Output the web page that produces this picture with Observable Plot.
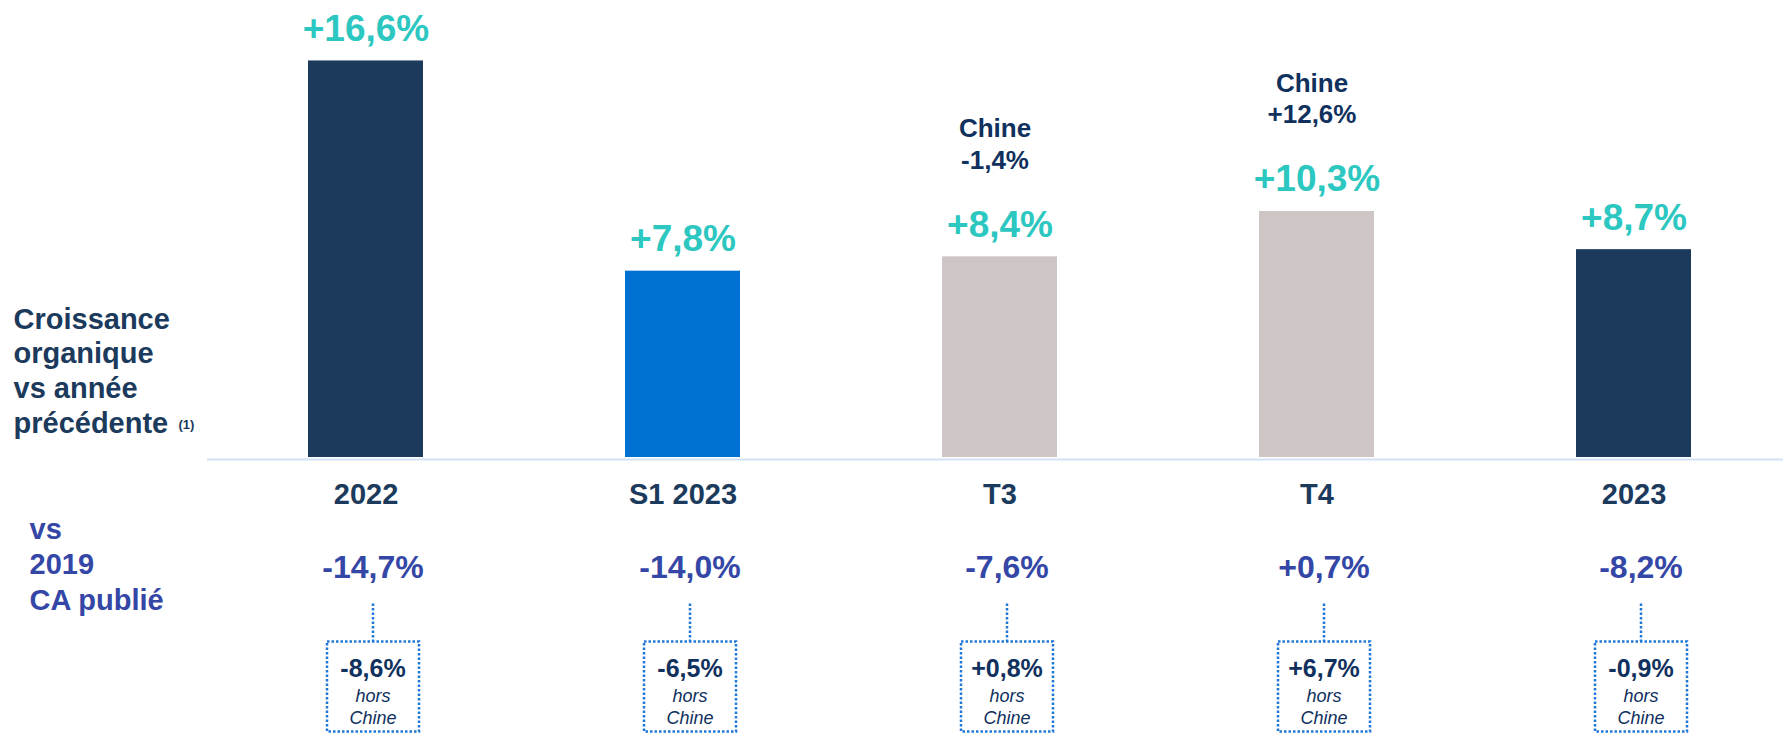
<!DOCTYPE html>
<html>
<head>
<meta charset="utf-8">
<script src="https://cdn.jsdelivr.net/npm/d3@7"></script>
<script src="https://cdn.jsdelivr.net/npm/@observablehq/plot@0.6"></script>
<style>
  html, body { margin: 0; padding: 0; background: #ffffff; }
  #chart svg { display: block; }
</style>
</head>
<body>
<div id="chart"></div>
<script>
// ---- data ----
const categories = ["2022", "S1 2023", "T3", "T4", "2023"];
const growth = [16.6, 7.8, 8.4, 10.3, 8.7];            // organic growth vs previous year (%)
const vs2019 = [-14.7, -14.0, -7.6, 0.7, -8.2];        // vs 2019 reported sales (%)
const exChina = [-8.6, -6.5, 0.8, 6.7, -0.9];          // vs 2019 excluding China (%)
const chinaCategories = ["T3", "T4"];
const chinaGrowth = [-1.4, 12.6];                      // China growth (%)
const leftLabelTop = "Croissance\norganique\nvs année\nprécédente";
const leftLabelNote = "(1)";
const leftLabelBottom = "vs\n2019\nCA publié";
const exChinaText = "hors\nChine";

// ---- styles ----
const barColors = ["#1b3a5c", "#0070d2", "#cec6c4", "#cec6c4", "#1b3a5c"];
const navy = "#1b3a5c";
const darkNavy = "#10305d";
const teal = "#2cc7c0";
const indigo = "#3447a6";
const boxBlue = "#1f78d8";

const fmt = v => (v >= 0 ? "+" : "-") + Math.abs(v).toFixed(1).replace(".", ",") + "%";

const rows = categories.map((cat, i) => ({
  cat, growth: growth[i], vs2019: vs2019[i], exChina: exChina[i]
}));
const chinaRows = chinaCategories.map((cat, i) => ({
  cat, china: chinaGrowth[i], growth: growth[categories.indexOf(cat)]
}));

const W = 1783, H = 735;
const mL = 275, mR = 58, mT = 27, mB = 278;

// dotted callout: connector + box (drawn relative to the box centre)
const boxSymbol = {
  draw(ctx) {
    const w = 46, h = 45, top = -83;
    ctx.moveTo(0, top); ctx.lineTo(0, -h);
    ctx.moveTo(-w, -h); ctx.lineTo(w, -h); ctx.lineTo(w, h); ctx.lineTo(-w, h); ctx.closePath();
  }
};

const chart = Plot.plot({
  width: W,
  height: H,
  marginLeft: mL,
  marginRight: mR,
  marginTop: mT,
  marginBottom: mB,
  style: { fontFamily: "'Liberation Sans', Arial, Helvetica, sans-serif", background: "#ffffff", overflow: "visible" },
  x: { type: "band", domain: categories, paddingInner: 0.6364, paddingOuter: 0.1, axis: null },
  y: { domain: [0, 18], axis: null },
  color: { domain: categories, range: barColors },
  marks: [
    Plot.ruleY([0], { stroke: "#d2e2f4", strokeWidth: 2, dy: 2, insetLeft: -(mL - 207), insetRight: -mR }),
    Plot.barY(rows, { x: "cat", y: "growth", fill: "cat" }),
    // growth labels above bars
    Plot.text(rows, { x: "cat", y: "growth", text: d => fmt(d.growth), lineAnchor: "bottom", dy: -20,
      fill: teal, fontSize: 37, fontWeight: "bold" }),
    // China notes above T3 / T4
    Plot.text(chinaRows, { x: "cat", y: "growth", text: d => "Chine\n" + fmt(d.china), lineAnchor: "bottom",
      dy: -88, dx: -5, lineHeight: 1.22, fill: darkNavy, fontSize: 26, fontWeight: "bold" }),
    // category labels
    Plot.text(rows, { x: "cat", y: () => 0, text: "cat", lineAnchor: "bottom", dy: 46,
      fill: navy, fontSize: 29, fontWeight: "bold" }),
    // vs 2019 values
    Plot.text(rows, { x: "cat", y: () => 0, text: d => fmt(d.vs2019), lineAnchor: "bottom", dy: 120, dx: 7,
      fill: indigo, fontSize: 32, fontWeight: "bold" }),
    // dotted callouts
    Plot.dot(rows, { x: "cat", y: () => 0, symbol: boxSymbol, dy: 229, dx: 7, fill: "none",
      stroke: boxBlue, strokeWidth: 2.5, strokeDasharray: "2.5,2" }),
    Plot.text(rows, { x: "cat", y: () => 0, text: d => fmt(d.exChina), lineAnchor: "bottom", dy: 219, dx: 7,
      fill: darkNavy, fontSize: 25, fontWeight: "bold" }),
    Plot.text(rows, { x: "cat", y: () => 0, text: () => exChinaText, lineAnchor: "bottom", dy: 266, dx: 7,
      lineHeight: 1.2, fill: darkNavy, fontSize: 18, fontStyle: "italic" }),
    // left-hand row labels
    Plot.text([leftLabelTop], { frameAnchor: "bottom-left", text: d => d, textAnchor: "start", lineAnchor: "bottom",
      dx: 13 - mL, dy: 432 - (H - mB), lineHeight: 1.193, fill: navy, fontSize: 29, fontWeight: "bold" }),
    Plot.text([leftLabelNote], { frameAnchor: "bottom-left", text: d => d, textAnchor: "start", lineAnchor: "bottom",
      dx: 178 - mL, dy: 428 - (H - mB), fill: navy, fontSize: 13, fontWeight: "bold" }),
    Plot.text([leftLabelBottom], { frameAnchor: "bottom-left", text: d => d, textAnchor: "start", lineAnchor: "bottom",
      dx: 29 - mL, dy: 609 - (H - mB), lineHeight: 1.224, fill: indigo, fontSize: 29, fontWeight: "bold" })
  ]
});

document.getElementById("chart").appendChild(chart);
</script>
</body>
</html>
